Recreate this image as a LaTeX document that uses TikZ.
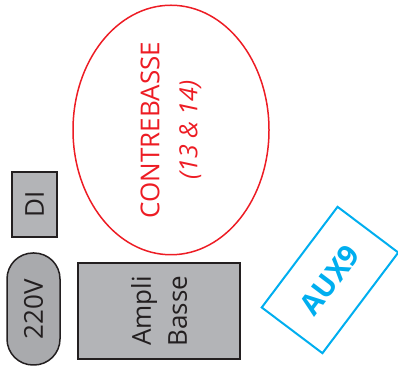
\documentclass[tikz,border=0pt]{standalone}
\usepackage{fontspec}
\setmainfont{Open Sans}
\usepackage{tikz}
\usetikzlibrary{shapes.geometric, positioning}
\usepackage{xcolor}
\definecolor{inkdark}{HTML}{231F20}
\definecolor{boxgray}{HTML}{B3B4B7}
\definecolor{pillgray}{HTML}{A9AAAD}
\definecolor{cbred}{HTML}{ED1C24}
\definecolor{auxcyan}{HTML}{00AEEF}

\begin{document}
\begin{tikzpicture}[x=1pt, y=1pt,
    graybox/.style={draw=inkdark, fill=boxgray, line width=1.5pt, text=inkdark, rotate=90, inner sep=0pt, font=\fontsize{26}{36}\selectfont, align=center},
    redoval/.style={draw=cbred, ellipse, line width=1.5pt, text=cbred, rotate=90, inner sep=0pt, font=\fontsize{26}{38}\selectfont, align=center},
    auxtag/.style={draw=auxcyan, line width=2pt, text=auxcyan, rotate=53, inner sep=0pt, font=\bfseries\fontsize{29}{30}\selectfont}]
    \useasboundingbox (0,0) rectangle (398,371);
    \node[graybox, minimum width=65pt, minimum height=45pt] (di) at (34.5,166.5) {DI};
    \node[graybox, fill=pillgray, rounded corners=26pt, minimum width=112pt, minimum height=53pt] (volt) at (33.5,62) {220V};
    \node[graybox, minimum width=96pt, minimum height=162pt] (ampli) at (159,60) {Ampli\\Basse};
    \node[redoval, minimum width=248pt, minimum height=196pt] (cb) at (171,241)
      {CONTREBASSE\\{\itshape\fontsize{25}{38}\selectfont (13 \& 14)}};
    \node[auxtag, minimum width=126pt, minimum height=76pt] (aux) at (330,91) {AUX9};
  \end{tikzpicture}
\end{document}
